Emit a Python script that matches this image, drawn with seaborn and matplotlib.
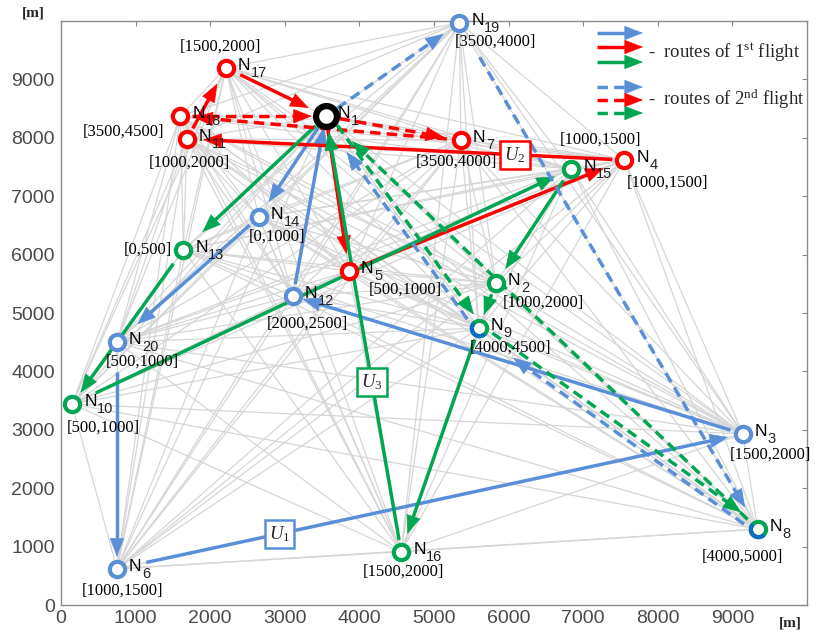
import numpy as np
import pandas as pd
import matplotlib
matplotlib.use("Agg")
import matplotlib.pyplot as plt
from matplotlib.path import Path
from matplotlib.patches import FancyArrowPatch
import seaborn as sns
from itertools import combinations

# ---------------- data ----------------
node_ids = list(range(1, 21))
node_x = [3550, 5830, 9140, 7550, 3860, 750, 5360, 9340, 5600, 150,
          1690, 3110, 1640, 2650, 6840, 4560, 2210, 1600, 5340, 750]
node_y = [8370, 5510, 2930, 7620, 5720, 620, 7960, 1300, 4740, 3440,
          7980, 5290, 6080, 6640, 7470, 910, 9200, 8370, 9970, 4500]
node_group = ["depot", "green", "blue", "red", "red", "blue", "red", "mixed", "mixed", "green",
              "red", "blue", "green", "blue", "green", "green", "red", "red", "blue", "blue"]
time_windows = ["", "[1000,2000]", "[1500,2000]", "[1000,1500]", "[500,1000]",
                "[1000,1500]", "[3500,4000]", "[4000,5000]", "[4000,4500]", "[500,1000]",
                "[1000,2000]", "[2000,2500]", "[0,500]", "[0,1000]", "[1000,1500]",
                "[1500,2000]", "[1500,2000]", "[3500,4500]", "[3500,4000]", "[500,1000]"]

# routes (node ids), first and second flight of each UAV
route_blue_1 = [1, 14, 20, 6, 3, 12, 1]
route_red_1 = [1, 5, 4, 11, 17, 1]
route_green_1 = [1, 13, 10, 15, 2, 9, 16, 1]
route_blue_2 = [1, 19, 8, 9, 1]
route_red_2 = [1, 7, 18, 1]
route_green_2 = [1, 9, 8, 1]

uav_labels = ["1", "2", "3"]
ticks = list(range(0, 10000, 1000))

# ---------------- styling ----------------
BLUE = "#5A8FD8"
DBLUE = "#0A6CC4"
RED = "#FF0000"
GREEN = "#00A651"
GREY = "#D6D6D6"
W, H, DPI = 816, 638, 100
PT = 72.0 / DPI  # points per pixel

sns.set_theme(style="white")
plt.rcParams.update({
    "mathtext.fontset": "custom",
    "mathtext.rm": "Liberation Serif",
    "mathtext.it": "Liberation Serif:italic",
    "mathtext.bf": "Liberation Serif:bold",
    "mathtext.sf": "Liberation Sans",
    "font.family": ["Liberation Sans", "DejaVu Sans"],
})

fig = plt.figure(figsize=(W / DPI, H / DPI), dpi=DPI)
ax = fig.add_axes([61 / W, 1 - 605 / H, 746 / W, 584 / H])
ax.set_xlim(0, 10000)
ax.set_ylim(0, 10000)
ax.set_xticks(ticks)
ax.set_yticks(ticks)
ax.tick_params(direction="in", length=5 * PT, width=0.8, top=True, right=True,
               color="#8a8a8a", labelcolor="#4a4a4a", labelsize=14)
ax.tick_params(axis="y", pad=6 * PT)
ax.tick_params(axis="x", pad=5 * PT)
for sp in ax.spines.values():
    sp.set_color("#8a8a8a")
    sp.set_linewidth(1.0)

X = dict(zip(node_ids, node_x))
Y = dict(zip(node_ids, node_y))

# background graph: every pair of nodes
rows = []
for k, (a, b) in enumerate(combinations(node_ids, 2)):
    rows.append({"edge": k, "x": X[a], "y": Y[a]})
    rows.append({"edge": k, "x": X[b], "y": Y[b]})
edges = pd.DataFrame(rows)
sns.lineplot(data=edges, x="x", y="y", units="edge", estimator=None, sort=False,
             color=GREY, lw=0.9, ax=ax, legend=False, zorder=1)
ax.set_xlabel("")
ax.set_ylabel("")

inv = ax.transData.inverted()
HEAD = "-|>,head_length=0.62,head_width=0.24"
DASH = (0, (3.0, 1.8))


def draw_arrow_px(p0, p1, color, dashed, transform=None, z=3):
    """Shaft from p0 to the base of the head, solid head ending at p1 (display px)."""
    d = (p1 - p0) / np.linalg.norm(p1 - p0)
    head_len = 16.5
    base = p1 - d * (head_len - 1)
    to_data = (lambda p: inv.transform(p)) if transform is None else transform
    s0, s1 = to_data(p0), to_data(base)
    if transform is None:
        ax.plot([s0[0], s1[0]], [s0[1], s1[1]], color=color, lw=2.5,
                ls=DASH if dashed else "-", solid_capstyle="butt",
                dash_capstyle="butt", zorder=z)
        hp = FancyArrowPatch(to_data(p1 - d * head_len), to_data(p1), arrowstyle=HEAD,
                             mutation_scale=20, lw=0.5, color=color,
                             shrinkA=0, shrinkB=0, zorder=z)
        ax.add_patch(hp)
    else:
        fig.add_artist(plt.Line2D([s0[0], s1[0]], [s0[1], s1[1]], color=color, lw=2.5,
                                  ls=DASH if dashed else "-", solid_capstyle="butt",
                                  dash_capstyle="butt", transform=fig.transFigure))
        fig.add_artist(FancyArrowPatch(to_data(p1 - d * head_len), to_data(p1),
                                       arrowstyle=HEAD, mutation_scale=20, lw=0.5,
                                       color=color, shrinkA=0, shrinkB=0,
                                       transform=fig.transFigure))


def draw_route(route, color, dashed, gaps, offsets):
    for i, (a, b) in enumerate(zip(route[:-1], route[1:])):
        pa = ax.transData.transform((X[a], Y[a]))
        pb = ax.transData.transform((X[b], Y[b]))
        d = (pb - pa) / np.linalg.norm(pb - pa)
        n = np.array([-d[1], d[0]])
        g0, g1 = gaps[i]
        p0 = pa + n * offsets[i] + d * g0
        p1 = pb + n * offsets[i] - d * g1
        draw_arrow_px(p0, p1, color, dashed)


draw_route(route_blue_1, BLUE, False,
           [(13, 18), (12, 27), (30, 12), (30, 15), (13, 10), (12, 11)], [0] * 6)
draw_route(route_red_1, RED, False,
           [(14, 17), (12, 22), (12, 16), (12, 18), (16, 19)], [0] * 5)
draw_route(route_green_1, GREEN, False,
           [(14, 26), (17, 14), (26, 18), (14, 17), (12, 14), (12, 19), (12, 16)], [0] * 7)
draw_route(route_blue_2, BLUE, True,
           [(14, 19), (40, 25), (14, 45), (14, 41)], [0, 0, 4, 4])
draw_route(route_red_2, RED, True,
           [(14, 17), (14, 14), (12, 14)], [0, 0, 0])
draw_route(route_green_2, GREEN, True,
           [(14, 14), (14, 23), (14, 36)], [4, 4, 0])

# UAV route tags placed along one edge of each first flight
tag_edges = [(6, 3, 0.26, BLUE), (4, 11, 0.25, RED), (16, 1, 0.39, GREEN)]
for lab, (a, b, t, col) in zip(uav_labels, tag_edges):
    tx = X[a] + t * (X[b] - X[a])
    ty = Y[a] + t * (Y[b] - Y[a])
    ax.text(tx, ty, r"$U_{\mathrm{%s}}$" % lab, fontsize=13.5, ha="center", va="center",
            zorder=5, bbox=dict(boxstyle="square,pad=0.22", fc="white", ec=col, lw=1.8))

# nodes
ring_col = {"depot": "black", "green": GREEN, "blue": BLUE, "red": RED, "mixed": GREEN}
nodes = pd.DataFrame({"id": node_ids, "x": node_x, "y": node_y, "group": node_group})
for grp, sub in nodes.groupby("group"):
    big = grp == "depot"
    sns.scatterplot(data=sub, x="x", y="y", color="white", edgecolor=ring_col[grp],
                    linewidth=4.5 if big else 3.0, s=(15 if big else 11) ** 2,
                    ax=ax, zorder=6, clip_on=False, legend=False)
ax.set_xlabel("")
ax.set_ylabel("")
ang = np.deg2rad(np.linspace(135, 315, 60))
half = Path(np.column_stack([np.cos(ang), np.sin(ang)]))
mixed = nodes[nodes.group == "mixed"]
ax.plot(mixed.x, mixed.y, ls="none", marker=half, ms=11, mfc="none", mec=DBLUE,
        mew=3.0, zorder=7, clip_on=False)

# node names and time windows
tw_offsets = {1: (0, 0), 2: (47, 19), 3: (28, 21), 4: (43, 23), 5: (56, 19), 6: (6, 22),
              7: (-4, 22), 8: (-15, 28), 9: (32, 19), 10: (31, 24), 11: (2, 24),
              12: (14, 28), 13: (-35, 0), 14: (18, 19), 15: (29, -29), 16: (2, 20),
              17: (-5, -21), 18: (-57, 15), 19: (36, 19), 20: (25, 19)}
for nid, tw in zip(node_ids, time_windows):
    xy = (X[nid], Y[nid])
    ax.annotate("N", xy, xytext=(12 * PT, -2 * PT), textcoords="offset points",
                fontsize=12.5, ha="left", va="baseline", color="black", zorder=8,
                annotation_clip=False)
    ax.annotate(str(nid), xy, xytext=(25 * PT, -9 * PT), textcoords="offset points",
                fontsize=10.5, ha="left", va="baseline", color="#222222", zorder=8,
                annotation_clip=False)
    if tw:
        dx, dy = tw_offsets[nid]
        ax.annotate(tw, xy, xytext=(dx * PT, -dy * PT), textcoords="offset points",
                    fontsize=12, family="Liberation Serif", ha="center", va="center",
                    color="black", zorder=8, annotation_clip=False)

# unit labels
fig.text(33 / W, 1 - 13 / H, "[m]", fontsize=11, family="Liberation Serif",
         weight="bold", ha="center", va="center")
fig.text(790 / W, 1 - 623 / H, "[m]", fontsize=11, family="Liberation Serif",
         weight="bold", ha="center", va="center")

# legend
to_fig = lambda p: np.array([p[0] / W, 1 - p[1] / H])
for yy, col in zip([33, 47, 62], [BLUE, RED, GREEN]):
    draw_arrow_px(np.array([597.0, yy]), np.array([643.0, yy]), col, False, transform=to_fig)
for yy, col in zip([87, 100, 113], [BLUE, RED, GREEN]):
    draw_arrow_px(np.array([597.0, yy]), np.array([643.0, yy]), col, True, transform=to_fig)
fig.text(648 / W, 1 - 52 / H, r"-  routes of 1$^{\mathrm{st}}$ flight", fontsize=13.5,
         family="Liberation Serif", ha="left", va="center")
fig.text(648 / W, 1 - 99 / H, r"-  routes of 2$^{\mathrm{nd}}$ flight", fontsize=13.5,
         family="Liberation Serif", ha="left", va="center")

fig.savefig("out.png", dpi=DPI, facecolor="white")
